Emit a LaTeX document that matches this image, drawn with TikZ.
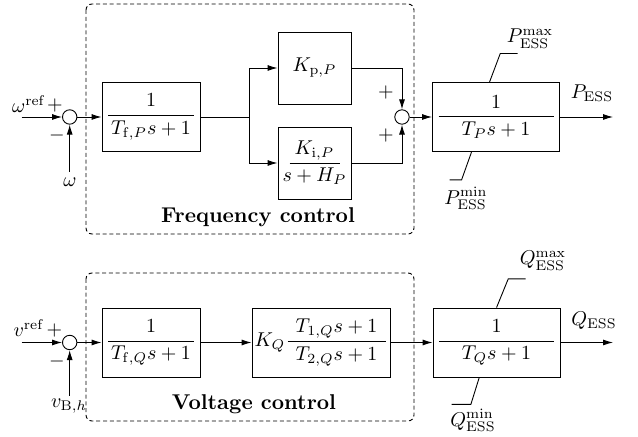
\documentclass[tikz,border=0pt]{standalone}
\usetikzlibrary{arrows.meta}
\begin{document}
\begin{tikzpicture}[x=0.5pt,y=-0.5pt, line width=0.45pt,
  blk/.style={draw, rectangle, inner sep=0pt, minimum height=34.5pt},
  sumc/.style={draw, circle, inner sep=0pt, minimum size=7.2pt},
  arr/.style={-{Latex[length=5pt,width=3pt]}},
  grp/.style={draw, dash pattern=on 2pt off 1.4pt, rounded corners=3pt},
  grptxt/.style={inner sep=0pt, anchor=base, font=\fontsize{10.7pt}{13pt}\selectfont\bfseries},
  lbl/.style={inner sep=0pt}]
\useasboundingbox (0,0) rectangle (638,437);
% groups
\draw[grp] (86,4) rectangle (414,234);
\draw[grp] (86,273) rectangle (414,421);
\node[grptxt] (ftxt) at (258,223) {Frequency control};
\node[grptxt] (vtxt) at (254,410) {Voltage control};
% ---------- upper row ----------
\coordinate (in1) at (21.7,117);
\coordinate (fb1) at (69.7,172);
\node[sumc] (s1) at (69.7,117) {};
\node[blk, minimum width=49pt] (b1) at (151,117) {$\displaystyle\frac{1}{\makebox[43pt]{$T_{\mathrm{f},P}s+1$}}$};
\coordinate (br) at (249,117);
\node[blk, minimum width=36.5pt, minimum height=36pt] (kp) at (314.5,68) {$K_{\mathrm{p},P}$};
\node[blk, minimum width=36.5pt, minimum height=36pt] (ki) at (314.5,163) {$\displaystyle\frac{K_{\mathrm{i},P}}{\makebox[25pt]{$s+H_P$}}$};
\node[sumc] (s2) at (402,117) {};
\node[blk, minimum width=63.5pt] (pb) at (496,117) {$\displaystyle\frac{1}{\makebox[57.5pt]{$T_Ps+1$}}$};
\coordinate (out1) at (613,117);
\node[lbl] (wref) at (29,104) {$\omega^{\mathrm{ref}}$};
\node[lbl] (p1) at (55,106) {$+$};
\node[lbl] (m1) at (57,136) {$-$};
\node[lbl] (w) at (70,182) {$\omega$};
\node[lbl] (p2) at (386,93) {$+$};
\node[lbl] (p3) at (386,136) {$+$};
\node[lbl] (pess) at (592,93) {$P_{\mathrm{ESS}}$};
\node[lbl] (pmax) at (530,38.5) {$P_{\mathrm{ESS}}^{\max}$};
\node[lbl] (pmin) at (466,198.5) {$P_{\mathrm{ESS}}^{\min}$};
\draw[arr] (in1) -- (s1);
\draw[arr] (fb1) -- (s1);
\draw[arr] (s1) -- (b1);
\draw (b1) -- (br);
\draw[arr] (br) |- (kp.west);
\draw[arr] (br) |- (ki.west);
\draw[arr] (kp.east) -| (s2.north);
\draw[arr] (ki.east) -| (s2.south);
\draw[arr] (s2) -- (pb);
\draw[arr] (pb) -- (out1);
\draw (pb.north west) ++(57.5,0) -- ++(10.7,-28.5) -- ++(17.3,0);
\draw (pb.south west) ++(39.5,0) -- ++(-10,28) -- ++(-12,0);
% ---------- lower row ----------
\coordinate (in2) at (21.7,342.5);
\coordinate (fb2) at (69.7,396);
\node[sumc] (s3) at (69.7,342.5) {};
\node[blk, minimum width=49pt] (q1) at (151,342.5) {$\displaystyle\frac{1}{\makebox[43pt]{$T_{\mathrm{f},Q}s+1$}}$};
\node[blk, minimum width=69.3pt] (kq) at (321.3,342.5) {$K_Q\displaystyle\frac{T_{1,Q}s+1}{\makebox[49pt]{$T_{2,Q}s+1$}}$};
\node[blk, minimum width=63.5pt] (qb) at (496.5,342.5) {$\displaystyle\frac{1}{\makebox[57.5pt]{$T_Qs+1$}}$};
\coordinate (out2) at (613,342.5);
\node[lbl] (vref) at (29,328) {$v^{\mathrm{ref}}$};
\node[lbl] (p4) at (54.5,331) {$+$};
\node[lbl] (m2) at (57,361.7) {$-$};
\node[lbl] (vb) at (69,406) {$v_{\mathrm{B},h}$};
\node[lbl] (qess) at (594,321) {$Q_{\mathrm{ESS}}$};
\node[lbl] (qmax) at (543,260.5) {$Q_{\mathrm{ESS}}^{\max}$};
\node[lbl] (qmin) at (473,420.5) {$Q_{\mathrm{ESS}}^{\min}$};
\draw[arr] (in2) -- (s3);
\draw[arr] (fb2) -- (s3);
\draw[arr] (s3) -- (q1);
\draw[arr] (q1) -- (kq);
\draw[arr] (kq) -- (qb);
\draw[arr] (qb) -- (out2);
\draw (qb.north west) ++(64,0) -- ++(11.7,-28.7) -- ++(17.3,0);
\draw (qb.south west) ++(46.7,0) -- ++(-8.4,27) -- ++(-19.3,0);
\end{tikzpicture}
\end{document}
